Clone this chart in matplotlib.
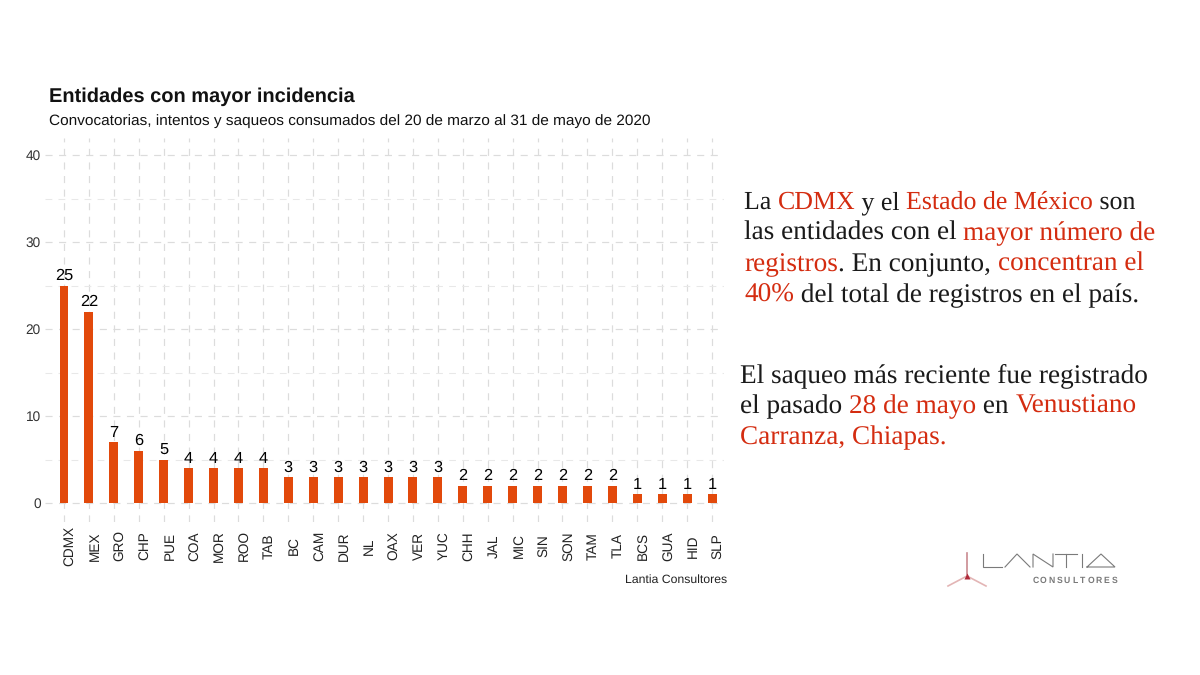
import matplotlib
matplotlib.use("Agg")
import matplotlib.pyplot as plt
from matplotlib.transforms import ScaledTranslation

# datos
entidades = ["CDMX", "MEX", "GRO", "CHP", "PUE", "COA", "MOR", "ROO", "TAB", "BC", "CAM", "DUR", "NL", "OAX",
             "VER", "YUC", "CHH", "JAL", "MIC", "SIN", "SON", "TAM", "TLA", "BCS", "GUA", "HID", "SLP"]
registros = [25, 22, 7, 6, 5, 4, 4, 4, 4, 3, 3, 3, 3, 3, 3, 3, 2, 2, 2, 2, 2, 2, 2, 1, 1, 1, 1]
y_ticks = [0, 10, 20, 30, 40]
y_minor = [5, 15, 25, 35]

NARANJA = "#e2490b"
ROJO = "#d42c10"
NEGRO = "#1a1a1a"
GRID = "#dcdcdc"
GRID_MINOR = "#e8e8e8"
LOGO = "#7a7a7a"
W, H = 1200, 675

plt.rcParams["font.family"] = ["Liberation Sans", "DejaVu Sans"]
plt.rcParams["text.hinting"] = "no_hinting"
fig = plt.figure(figsize=(12, 6.75), dpi=100, facecolor="white")

# panel de la grafica
left, right, top, bottom = 45, 724, 137.6, 521.5
ax = fig.add_axes([left / W, 1 - bottom / H, (right - left) / W, (bottom - top) / H])
x = list(range(1, len(entidades) + 1))
ax.set_xlim(0.238, 27.48)
ax.set_ylim(-2.12, 42)
ax.set_axisbelow(True)
ax.bar(x, registros, width=0.36, color=NARANJA, zorder=3)
for xi, v in zip(x, registros):
    ax.text(xi, v + 0.25, str(v), ha="center", va="bottom", fontsize=11.8, color="black", zorder=4)

ax.set_xticks(x)
ax.set_xticklabels(entidades, rotation=90, fontsize=9.8, color="#222222", va="center")
ax.set_yticks(y_ticks)
ax.set_yticks(y_minor, minor=True)
ax.tick_params(axis="both", which="both", length=0)
ax.tick_params(axis="x", pad=17.5)
ax.tick_params(axis="y", labelsize=9.8, labelcolor="#333333", pad=3)
# las etiquetas van un poco a la derecha de la barra (despues de tick_params, que resetea el transform)
dx = ScaledTranslation(6 / 100, 0, fig.dpi_scale_trans)
for lab in ax.get_xticklabels():
    lab.set_transform(lab.get_transform() + dx)
ax.grid(True, which="major", axis="both", color=GRID, linewidth=0.85, linestyle=(0, (6, 5.5)))
ax.grid(True, which="minor", axis="y", color=GRID_MINOR, linewidth=0.75, linestyle=(0, (6.5, 6)))
for s in ax.spines.values():
    s.set_visible(False)

# capa en pixeles para textos y logo
ov = fig.add_axes([0, 0, 1, 1])
ov.set_xlim(0, W)
ov.set_ylim(H, 0)
ov.axis("off")
ov.patch.set_alpha(0)

ov.text(49, 96.5, "Entidades con mayor incidencia", fontsize=14.45, fontweight="bold", color="#111111", va="center")
ov.text(49, 121, "Convocatorias, intentos y saqueos consumados del 20 de marzo al 31 de mayo de 2020",
        fontsize=11.05, color="#111111", va="center")
ov.text(727, 579.5, "Lantia Consultores", fontsize=8.85, color="#222222", ha="right", va="center")


def linea(x0, y, trozos, size=19.6):
    # escribe los trozos uno tras otro, cada uno con su color
    rend = fig.canvas.get_renderer()
    cur = x0
    for txt, col in trozos:
        t = ov.text(cur, y, txt, fontsize=size, color=col, family="Liberation Serif", va="baseline")
        # el ancho se mide con un punto para no perder los espacios finales
        t.set_text(txt + ".")
        w_full = t.get_window_extent(rend).width
        t.set_text(".")
        w_dot = t.get_window_extent(rend).width
        t.set_text(txt)
        cur += w_full - w_dot


parrafo1 = [
    (744, 209, [("las entidades con el ", NEGRO), ("mayor número de", ROJO)]),
    (744, 271, [("registros", ROJO), (". En conjunto, ", NEGRO), ("concentran el", ROJO)]),
    (744, 302, [("40%", ROJO), (" del total de registros en el país.", NEGRO)]),
]
parrafo1[0] = (744, 240, parrafo1[0][2])
parrafo2 = [
    (740, 382, [("El saqueo más reciente fue registrado", NEGRO)]),
    (740, 413, [("el pasado ", NEGRO), ("28 de mayo", ROJO), (" en ", NEGRO), ("Venustiano", ROJO)]),
    (740, 444, [("Carranza, Chiapas.", ROJO)]),
]
for x0, y, trozos in parrafo1 + parrafo2:
    linea(x0, y, trozos)
# esta linea lleva muchas mayusculas, que en esta fuente salen mas anchas
linea(744, 209, [("La ", NEGRO), ("CDMX", ROJO), (" y el ", NEGRO), ("Estado de México", ROJO), (" son", NEGRO)], size=18.6)

# logo: simbolo y letras de trazo fino
ov.plot([967, 967], [553, 575], color="#c98a90", lw=1.2)
ov.plot([948, 967], [586, 576], color="#e3b5b5", lw=1.2)
ov.plot([986, 967], [586, 576], color="#e3b5b5", lw=1.2)
ov.plot([967], [576], marker="^", ms=5, color="#b02a3a", mec="none")
trazos = [
    ([983, 983, 1002], [554, 567, 567]),
    ([1005, 1017, 1030], [567, 554, 567]),
    ([1033, 1033, 1053, 1053], [567, 554, 567, 554]),
    ([1055, 1077], [554, 554]),
    ([1066, 1066], [554, 567]),
    ([1082, 1082], [554, 567]),
    ([1087, 1101, 1115, 1087], [567, 554, 567, 567]),
]
for xs, ys in trazos:
    ov.plot(xs, ys, color=LOGO, lw=0.8, solid_joinstyle="miter")
for i, letra in enumerate("CONSULTORES"):
    ov.text(1035.5 + i * 7.9, 580.5, letra, fontsize=6.2, color=LOGO, ha="center", va="center", fontweight="bold")

fig.savefig("out.png", dpi=100)
